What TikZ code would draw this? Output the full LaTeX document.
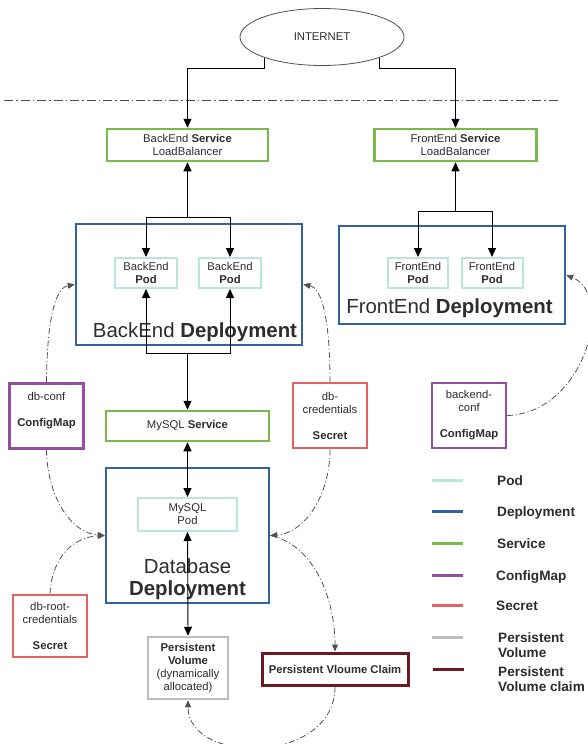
\documentclass[tikz,border=0pt]{standalone}
\usepackage{fontspec}
\setmainfont{Liberation Sans}
\usetikzlibrary{arrows.meta,shapes.geometric}
\definecolor{txt}{RGB}{45,45,45}
\definecolor{svcg}{RGB}{122,184,74}
\definecolor{depb}{RGB}{52,96,164}
\definecolor{podc}{RGB}{188,228,220}
\definecolor{cmp}{RGB}{150,78,160}
\definecolor{secr}{RGB}{226,98,102}
\definecolor{pvg}{RGB}{190,190,190}
\definecolor{pvcr}{RGB}{108,26,34}
\definecolor{dsh}{RGB}{80,80,80}
\begin{document}
\begin{tikzpicture}[x=1pt,y=-1pt,
  sm/.style={font=\fontsize{11.3}{13}\selectfont, text=txt},
  big/.style={font=\fontsize{20.4}{24}\selectfont, text=txt, inner sep=0pt},
  leg/.style={font=\fontsize{13.6}{14.5}\selectfont\bfseries, text=txt, inner sep=0pt, align=left},
  box/.style={draw, rectangle, inner sep=0pt, align=center, sm, line width=2.5pt},
  svc/.style={box, draw=svcg},
  dep/.style={box, draw=depb},
  podbox/.style={box, draw=podc, line width=2pt, minimum height=30},
  cmbox/.style={box, draw=cmp, minimum width=74, minimum height=65},
  secbox/.style={box, draw=secr, minimum width=74},
  conn/.style={draw=black, line width=0.9pt, -{Triangle[length=9pt,width=8pt]}},
  dconn/.style={draw=dsh, line width=0.8pt, dash pattern=on 6pt off 2.5pt on 1pt off 2.5pt, -{Triangle[length=7pt,width=6pt]}},
  legline/.style={line width=3pt}
]
\useasboundingbox (0,0) rectangle (588,744);
\fill[white] (0,0) rectangle (588,744);
\clip (0,0) rectangle (588,744);

% internet
\node[ellipse, draw=dsh, line width=0.8pt, minimum width=164, minimum height=57, inner sep=0pt, sm] (inet) at (322,37) {INTERNET};
\coordinate (dl1) at (4,100);
\coordinate (dl2) at (560,100);
\draw[draw=dsh, line width=0.8pt, dash pattern=on 9pt off 3pt on 1.5pt off 3pt] (dl1) -- (dl2);
\coordinate (ty) at (0,68);

% services
\node[svc, minimum width=161, minimum height=32] (bes) at (187.5,145) {BackEnd \textbf{Service}\\LoadBalancer};
\node[svc, minimum width=162, minimum height=32] (fes) at (455.5,145) {FrontEnd \textbf{Service}\\LoadBalancer};

% backend deployment
\node[dep, minimum width=226, minimum height=121] (bed) at (189,284.5) {};
\node[big, anchor=base] (bedt) at (195,337) {BackEnd \textbf{Deployment}};
\node[podbox, minimum width=62] (bp1) at (146,273) {BackEnd\\\textbf{Pod}};
\node[podbox, minimum width=62] (bp2) at (230,273) {BackEnd\\\textbf{Pod}};

% frontend deployment
\node[dep, minimum width=226, minimum height=98] (fed) at (452,275) {};
\node[big, anchor=base] (fedt) at (449.5,313) {FrontEnd \textbf{Deployment}};
\node[podbox, minimum width=60] (fp1) at (418,273) {FrontEnd\\\textbf{Pod}};
\node[podbox, minimum width=61] (fp2) at (492,273) {FrontEnd\\\textbf{Pod}};

% mysql
\node[svc, minimum width=163, minimum height=30] (mys) at (187.5,426) {MySQL \textbf{Service}};
\node[dep, minimum width=163, minimum height=135] (dbd) at (187.5,535.5) {};
\node[big, anchor=base] (dbt1) at (187.5,573) {Database};
\node[big, anchor=base] (dbt2) at (187.5,595) {\textbf{Deployment}};
\node[podbox, minimum width=99, minimum height=33] (myp) at (187.5,514.5) {MySQL\\Pod};

% config / secrets
\node[cmbox] (dbconf) at (46.5,416) {db-conf\\[13pt]\textbf{ConfigMap}\\\mbox{}};
\node[secbox, minimum height=65] (dbcred) at (330,415.5) {db-\\credentials\\[13pt]\textbf{Secret}};
\node[cmbox] (bconf) at (469,415.5) {backend-\\conf\\[13pt]\textbf{ConfigMap}};
\node[secbox, minimum height=62] (dbroot) at (50,626) {db-root-\\credentials\\[13pt]\textbf{Secret}};

% volumes
\node[box, draw=pvg, minimum width=80, minimum height=62] (pv) at (188,668) {\textbf{Persistent}\\\textbf{Volume}\\(dynamically\\allocated)};
\node[box, draw=pvcr, line width=3pt, minimum width=146, minimum height=32] (pvc) at (335,669) {\textbf{Persistent Vloume Claim}};

% solid connectors
\draw[conn] (inet.200) |- (bes.north |- ty) -- (bes.north);
\draw[conn] (inet.340) |- (fes.north |- ty) -- (fes.north);

\coordinate (bj) at (187.5,217);
\draw[conn] (bj) -- (bes.south);
\draw[conn] (bj) -| (bp1.north);
\draw[conn] (bj) -| (bp2.north);

\coordinate (fj) at (455.5,211);
\draw[conn] (fj) -- (fes.south);
\draw[conn] (fj) -| (fp1.north);
\draw[conn] (fj) -| (fp2.north);

\coordinate (bk) at (187.5,353);
\draw[conn] (bk) -| (bp1.south);
\draw[conn] (bk) -| (bp2.south);
\draw[conn] (bk) -- (mys.north);

\draw[conn, {Triangle[length=9pt,width=8pt]}-{Triangle[length=9pt,width=8pt]}] (mys.south) -- (myp.north);
\draw[conn, {Triangle[length=9pt,width=8pt]}-{Triangle[length=9pt,width=8pt]}] (myp.south) -- (pv.north);

% dashed connectors
\draw[dconn] (dbconf.north) .. controls (47,320) and (55,288) .. (bed.west);
\draw[dconn] (dbcred.north) .. controls (330,320) and (322,288) .. (bed.east);
\draw[dconn] (dbconf.south) .. controls (47,495) and (70,533) .. (dbd.west);
\draw[dconn] (dbroot.north) .. controls (52,555) and (75,537) .. (dbd.west);
\draw[dconn] (dbcred.south) .. controls (330,495) and (305,533) .. (dbd.east);
\draw[dconn] (dbd.east) .. controls (315,545) and (335,600) .. (pvc.north);
\draw[dconn] (pvc.south) .. controls (335,765) and (188,765) .. (pv.south);
\draw[dconn] (bconf.east) .. controls (585,413) and (615,295) .. (fed.east);

% legend
\draw[legline, podc] (432,480) -- (463,480);
\node[leg, anchor=base west] (lpod) at (497,485) {Pod};
\draw[legline, depb] (432,511) -- (463,511);
\node[leg, anchor=base west] (ldep) at (497,516) {Deployment};
\draw[legline, svcg] (432,543.5) -- (463,543.5);
\node[leg, anchor=base west] (lsvc) at (497,548.5) {Service};
\draw[legline, cmp] (432,575) -- (463,575);
\node[leg, anchor=base west] (lcm) at (496,580) {ConfigMap};
\draw[legline, secr] (432,605) -- (463,605);
\node[leg, anchor=base west] (lsec) at (496,610) {Secret};
\draw[legline, pvg] (432,637) -- (463,637);
\node[leg, anchor=base west] (lpv) at (498,657) {Persistent\\Volume};
\draw[legline, pvcr] (433,669) -- (464,669);
\node[leg, anchor=base west] (lpvc) at (498,691) {Persistent\\Volume claim};
\end{tikzpicture}
\end{document}
